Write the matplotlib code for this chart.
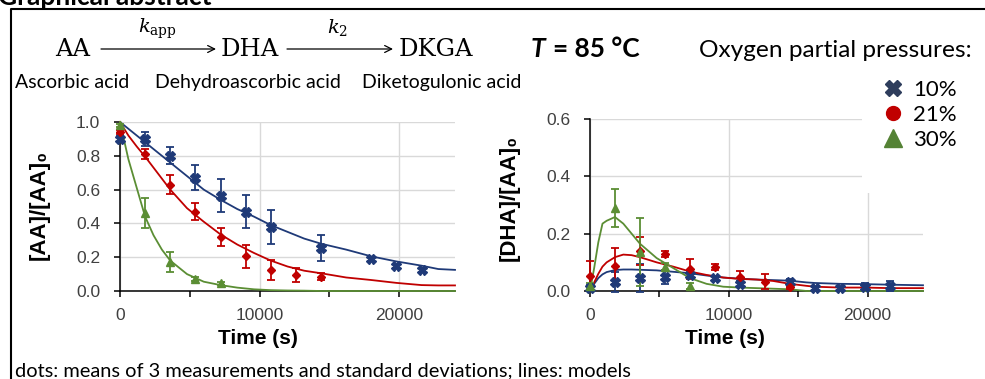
# Ascorbic acid oxidation at 85 C: AA decay and DHA formation, data + model lines
import matplotlib.pyplot as plt
import matplotlib.ticker as mticker
from matplotlib.lines import Line2D
from matplotlib.patches import Rectangle

plt.rcParams['mathtext.fontset'] = 'dejavuserif'
plt.rcParams['font.family'] = ['Liberation Sans', 'DejaVu Sans']

# ---- measured data (means and standard deviations) ----
t_aa_10 = [0, 1800, 3600, 5400, 7200, 9000, 10800, 14400, 18000, 19800, 21600]
aa_10 = [0.90, 0.90, 0.80, 0.67, 0.565, 0.47, 0.38, 0.255, 0.19, 0.15, 0.125]
aa_10_sd = [0.02, 0.04, 0.05, 0.075, 0.095, 0.10, 0.10, 0.075, 0.01, 0.012, 0.012]

t_aa_21 = [0, 1800, 3600, 5400, 7200, 9000, 10800, 12600, 14400]
aa_21 = [0.94, 0.81, 0.63, 0.47, 0.32, 0.205, 0.125, 0.095, 0.085]
aa_21_sd = [0.01, 0.03, 0.055, 0.05, 0.055, 0.068, 0.06, 0.04, 0.02]

t_aa_30 = [0, 1800, 3600, 5400, 7200]
aa_30 = [0.98, 0.46, 0.17, 0.07, 0.045]
aa_30_sd = [0.01, 0.09, 0.06, 0.012, 0.01]

t_dha_10 = [0, 1800, 3600, 5400, 7200, 9000, 10800, 14400, 16200, 18000, 19800, 21600]
dha_10 = [0.01, 0.03, 0.045, 0.05, 0.056, 0.044, 0.025, 0.033, 0.009, 0.009, 0.015, 0.017]
dha_10_sd = [0.01, 0.035, 0.048, 0.025, 0.01, 0.01, 0.01, 0.01, 0.005, 0.005, 0.012, 0.018]

t_dha_21 = [0, 1800, 3600, 5400, 7200, 9000, 10800, 12600, 14400]
dha_21 = [0.053, 0.088, 0.14, 0.129, 0.076, 0.085, 0.05, 0.033, 0.013]
dha_21_sd = [0.053, 0.062, 0.05, 0.01, 0.035, 0.01, 0.02, 0.026, 0.005]

t_dha_30 = [0, 1800, 3600, 5400, 7200]
dha_30 = [0.018, 0.29, 0.137, 0.085, 0.018]
dha_30_sd = [0.01, 0.067, 0.119, 0.012, 0.01]

# ---- model curves ----
t_mod_aa = [0, 600, 1200, 1800, 2400, 3000, 3600, 4800, 6000, 7200, 8400, 9600,
            10800, 12000, 13200, 14400, 16200, 18000, 19800, 21600, 22800, 24000]
mod_aa_10 = [1.0, 0.96, 0.92, 0.88, 0.84, 0.80, 0.76, 0.68, 0.60, 0.54, 0.485, 0.44,
             0.39, 0.35, 0.31, 0.28, 0.245, 0.205, 0.175, 0.15, 0.13, 0.125]
mod_aa_21 = [1.0, 0.92, 0.855, 0.795, 0.73, 0.665, 0.60, 0.49, 0.41, 0.335, 0.275, 0.225,
             0.18, 0.145, 0.12, 0.105, 0.08, 0.065, 0.048, 0.035, 0.033, 0.033]
mod_aa_30 = [1.0, 0.78, 0.61, 0.44, 0.33, 0.245, 0.18, 0.10, 0.055, 0.035, 0.02, 0.01,
             0.005, 0.003, 0.002, 0.0, 0.0, 0.0, 0.0, 0.0, 0.0, 0.0]

t_mod_dha = [0, 300, 600, 900, 1200, 1800, 2400, 3000, 3600, 4800, 6000, 7200, 8400,
             9600, 10800, 12000, 13200, 14400, 15600, 16200, 18000, 19800, 21600, 24000]
mod_dha_10 = [0.0, 0.025, 0.045, 0.058, 0.066, 0.073, 0.075, 0.075, 0.074, 0.072, 0.067,
              0.062, 0.054, 0.047, 0.043, 0.040, 0.038, 0.036, 0.030, 0.028, 0.025, 0.024,
              0.022, 0.020]
mod_dha_21 = [0.0, 0.03, 0.06, 0.085, 0.10, 0.118, 0.127, 0.125, 0.118, 0.10, 0.085,
              0.068, 0.056, 0.047, 0.042, 0.040, 0.035, 0.025, 0.018, 0.015, 0.012, 0.012,
              0.010, 0.010]
mod_dha_30 = [0.0, 0.08, 0.17, 0.235, 0.245, 0.258, 0.235, 0.20, 0.165, 0.115, 0.08,
              0.045, 0.025, 0.015, 0.012, 0.010, 0.008, 0.006, 0.0, 0.0, 0.0, 0.0, 0.0, 0.0]

labels = ['10%', '21%', '30%']
blue, red, green = '#1f3a78', '#c00000', '#5b8e34'

fig = plt.figure(figsize=(9.85, 3.79), dpi=100)
ax1 = fig.add_axes([120 / 985, 88 / 379, 335 / 985, 169 / 379])
ax2 = fig.add_axes([590 / 985, 88 / 379, 333 / 985, 172 / 379])


def style(ax, ymax):
    ax.set_xlim(0, 24000)
    ax.set_ylim(0, ymax)
    ax.set_xticks([0, 10000, 20000])
    ax.set_xticks([5000, 15000], minor=True)
    ax.yaxis.set_major_locator(mticker.MultipleLocator(0.2))
    ax.yaxis.set_major_formatter(mticker.FormatStrFormatter('%.1f'))
    ax.grid(True, color='#d9d9d9', lw=1.0)
    ax.set_axisbelow(True)
    for s in ['top', 'right']:
        ax.spines[s].set_visible(False)
    for s in ['left', 'bottom']:
        ax.spines[s].set_linewidth(1.1)
    ax.tick_params(which='both', direction='out', length=4.3, width=1.1,
                   labelsize=12.5, labelcolor='#404040')
    ax.tick_params(axis='x', pad=8)
    ax.tick_params(axis='y', pad=10)


def draw(ax, t_mod, mods, series):
    for m, c in zip(mods, [blue, red, green]):
        ax.plot(t_mod, m, color=c, lw=1.3, zorder=3, clip_on=False)
    markers = [('X', 6.5), ('D', 4.5), ('^', 6)]
    for (t, y, sd), c, (mk, ms) in zip(series, [blue, red, green], markers):
        ax.errorbar(t, y, yerr=sd, fmt=mk, ms=ms, color=c, mec=c, capsize=3.2,
                    elinewidth=1.3, capthick=1.3, zorder=4, clip_on=False)


style(ax1, 1.0)
draw(ax1, t_mod_aa, [mod_aa_10, mod_aa_21, mod_aa_30],
     [(t_aa_10, aa_10, aa_10_sd), (t_aa_21, aa_21, aa_21_sd), (t_aa_30, aa_30, aa_30_sd)])
ax1.set_xlabel('Time (s)', fontsize=15, fontweight='bold')
ax1.set_ylabel('[AA]/[AA]\u2080', fontsize=16, fontweight='bold')
ax1.xaxis.set_label_coords(0.412, -0.225)
ax1.yaxis.set_label_coords(-0.209, 0.51)

style(ax2, 0.6)
draw(ax2, t_mod_dha, [mod_dha_10, mod_dha_21, mod_dha_30],
     [(t_dha_10, dha_10, dha_10_sd), (t_dha_21, dha_21, dha_21_sd), (t_dha_30, dha_30, dha_30_sd)])
ax2.set_xlabel('Time (s)', fontsize=15, fontweight='bold')
ax2.set_ylabel('[DHA]/[AA]\u2080', fontsize=16, fontweight='bold')
ax2.xaxis.set_label_coords(0.405, -0.222)
ax2.yaxis.set_label_coords(-0.21, 0.544)

# ---- overlay in pixel coordinates for the header, frame and legend ----
ov = fig.add_axes([0, 0, 1, 1])
ov.set_xlim(0, 985)
ov.set_ylim(379, 0)
ov.axis('off')
ov.set_zorder(5)

ov.plot([11, 11, 1000], [400, 9, 9], color='black', lw=1.5, clip_on=False)
ov.text(-2, 5, 'Graphical abstract', family='Lato', fontweight='bold', fontsize=19,
        va='baseline')

serif = dict(family='DejaVu Serif', fontsize=17.5, va='baseline')
ov.text(55, 56, 'AA', **serif)
ov.text(221, 56, 'DHA', **serif)
ov.text(399, 56, 'DKGA', **serif)
arrow = dict(arrowstyle='->,head_length=0.5,head_width=0.25', lw=0.9, color='black',
             shrinkA=0, shrinkB=0)
ov.annotate('', xy=(216, 49), xytext=(101, 49), arrowprops=arrow)
ov.annotate('', xy=(393, 49), xytext=(287, 49), arrowprops=arrow)
ov.text(157, 33, r'$k_{\mathrm{app}}$', fontsize=14, ha='center', va='baseline')
ov.text(338, 33, r'$k_{2}$', fontsize=14, ha='center', va='baseline')

small = dict(family='Lato', fontsize=14, va='baseline')
ov.text(15, 88, 'Ascorbic acid', **small)
ov.text(155, 88, 'Dehydroascorbic acid', **small)
ov.text(362, 88, 'Diketogulonic acid', **small)
ov.text(15, 376, 'dots: means of 3 measurements and standard deviations; lines: models',
        family='Lato', fontsize=14.4, va='baseline')

ov.text(531, 57, 'T', family='Lato', fontweight='bold', style='italic', fontsize=19,
        va='baseline')
ov.text(553, 57, '= 85 \u00b0C', family='Lato', fontweight='bold', fontsize=19,
        va='baseline')
ov.text(699, 57, 'Oxygen partial pressures:', family='Lato', fontsize=17.6, va='baseline')

ov.add_patch(Rectangle((862, 95), 125, 98, facecolor='white', edgecolor='none'))
handles = [Line2D([], [], ls='none', marker='X', ms=11, color='#2e3d5c'),
           Line2D([], [], ls='none', marker='o', ms=10, color='#c00000'),
           Line2D([], [], ls='none', marker='^', ms=13, color='#548235')]
ov.legend(handles, labels, loc='upper left', bbox_to_anchor=(882 / 985, 1 - 80 / 379),
          frameon=False, prop=dict(family='Lato', size=16), handlelength=1.0,
          handletextpad=0.4, labelspacing=0.22, borderaxespad=0, borderpad=0)

fig.savefig('out.png', dpi=100)
